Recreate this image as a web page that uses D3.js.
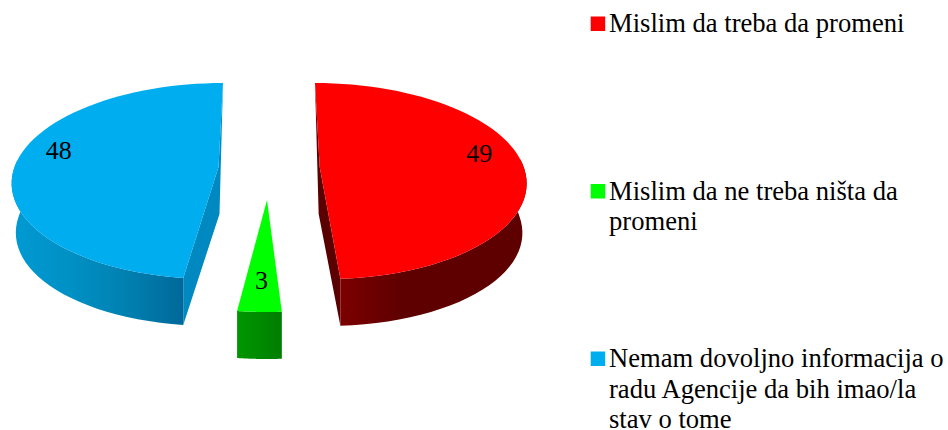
<!DOCTYPE html>
<html>
<head>
<meta charset="utf-8">
<style>
  html, body { margin: 0; background: #fff; }
  svg { display: block; }
  text { font-family: "Liberation Serif", serif; fill: #000; }
</style>
</head>
<body>
<script src="https://cdn.jsdelivr.net/npm/d3@7"></script>
<script>
// Values
var categories = ["Mislim da treba da promeni", "Mislim da ne treba ni\u0161ta da promeni", "Nemam dovoljno informacija o radu Agencije da bih imao/la stav o tome"];
var values = [49, 3, 48];
var legendLines = [
    ["Mislim da treba da promeni"],
    ["Mislim da ne treba ni\u0161ta da", "promeni"],
    ["Nemam dovoljno informacija o", "radu Agencije da bih imao/la", "stav o tome"]
];

// Colours
var faceColors = ["#ff0000", "#00ff00", "#00adef"];
var innerColors = ["#5a0000", "#008a00", "#0088c0"];
var wallStops = [
    ["#7c0000", "#5e0000", "#5e0000", "#5e0000"],
    ["#009600", "#007e00"],
    ["#0099d2", "#0090c4", "#0080b0", "#00689a"]
];
var wallRange = [[340, 527], [238, 281], [16, 184]];

// Layout of the exploded 3D pie
var width = 948, height = 430;
var cx = 268, cy = 167,
    rx = 204, ryFar = 96,
    persp = 0.143, perspExplode = 0.1,
    depth = 47, depthShrink = 0.02;
var explodeX = [51.7, -1, -49.5],
    explodeY = [0, 33, 0];
var labelRadius = [0.815, 0.75, 0.825],
    labelShift = [-8.5, 0, 8.5];

var svg = d3.select("body").
            append("svg").
            attr("width", width).
            attr("height", height);

var defs = svg.append("defs");
var g = svg.append("g");

var color = d3.scaleOrdinal().domain(categories).range(faceColors);

var slices = d3.pie().sort(null)(values);

// Circle on the pie plane -> screen, with a bit of perspective
function project(i, angle, r, lower) {
    var v = -Math.cos(angle) * r,
        u = Math.sin(angle) * r;
    var sx = explodeX[i] / (1 - perspExplode * v) + rx * u / (1 - persp * v);
    var sy = ryFar * v / (1 - persp * v);
    if (lower) sx *= 1 - depthShrink * (1 - Math.abs(v));
    return [cx + sx, cy + explodeY[i] + sy + (lower ? depth : 0)];
}

function arcAngles(d) {
    return d3.range(0, 61).map(function (k) {
        return d.startAngle + (d.endAngle - d.startAngle) * k / 60;
    });
}

var line = d3.line();

slices.forEach(function (d, i) {

    var stops = wallStops[i];
    var grad = defs.append("linearGradient").
        attr("id", "wall" + i).
        attr("gradientUnits", "userSpaceOnUse").
        attr("x1", wallRange[i][0]).
        attr("x2", wallRange[i][1]).
        attr("y1", 0).
        attr("y2", 0);
    stops.forEach(function (c, k) {
        grad.append("stop").
            attr("offset", k / (stops.length - 1)).
            attr("stop-color", c);
    });

    var angles = arcAngles(d);
    var upper = angles.map(function (a) { return project(i, a, 1, false); });

    // only the part of the wall that faces the viewer
    var front = angles.filter(function (a) { return -Math.cos(a) > -0.1; });
    var wallTop = front.map(function (a) { return project(i, a, 1, false); }),
        wallLow = front.map(function (a) { return project(i, a, 1, true); });

    var apex = project(i, 0, 0, false),
        apexLow = project(i, 0, 0, true);

    var slice = g.append("g").attr("class", "slice");

    // Cut faces: end of the red one, start of the blue one show
    if (i == 0) {
        slice.append("path").
            attr("d", line([upper[0], apex, upper[60], project(i, d.endAngle, 1, true), apexLow]) + "Z").
            attr("fill", innerColors[i]);
    } else if (i == 2) {
        slice.append("path").
            attr("d", line([upper[60], apex, upper[0], project(i, d.startAngle, 1, true), apexLow]) + "Z").
            attr("fill", innerColors[i]);
    }

    // Outer wall
    slice.append("path").
        attr("d", line(wallTop.concat(wallLow.slice().reverse())) + "Z").
        attr("fill", "url(#wall" + i + ")");

    // Top face
    slice.append("path").
        attr("d", line(upper.concat([apex])) + "Z").
        attr("fill", color(categories[i]));

    // Value label
    var mid = (d.startAngle + d.endAngle) / 2 + labelShift[i] * Math.PI / 180;
    var p = project(i, mid, labelRadius[i], false);
    slice.append("text").
        attr("x", p[0]).
        attr("y", p[1]).
        attr("dy", "0.33em").
        attr("text-anchor", "middle").
        style("font-size", "26px").
        text(d.value);
});

// Legend
var legendY = d3.scalePoint().domain(categories).range([32, 367]);

var legend = svg.selectAll("g.legend").
    data(categories).
    enter().append("g").
    attr("class", "legend").
    attr("transform", function (d) { return "translate(0," + legendY(d) + ")"; });

legend.append("rect").
    attr("x", 590.7).
    attr("y", -15.5).
    attr("width", 14.5).
    attr("height", 14.5).
    attr("fill", function (d) { return color(d); });

legend.each(function (d, i) {
    d3.select(this).selectAll("text").
        data(legendLines[i]).
        enter().append("text").
        attr("x", 609).
        attr("y", function (t, k) { return k * 30.7; }).
        style("font-size", "26.6px").
        text(function (t) { return t; });
});
</script>
</body>
</html>
